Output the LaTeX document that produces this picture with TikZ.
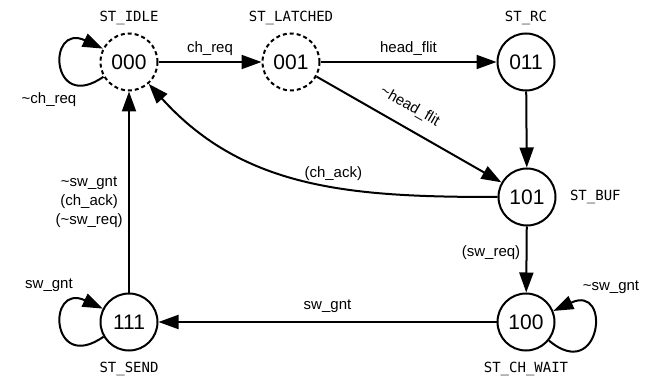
\documentclass[tikz,border=0pt]{standalone}
\usepackage{fontspec}
\setmainfont{Liberation Sans}
\setmonofont{DejaVu Sans Mono}
\usetikzlibrary{arrows.meta, positioning}
\tikzset{
    fsm/.style={circle, draw, line width=2pt, minimum size=57pt, inner sep=0pt,
        font=\fontsize{21}{21}\selectfont},
    fsmdash/.style={fsm, dash pattern=on 4pt off 3pt},
    trans/.style={->, line width=2pt},
    cond/.style={font=\fontsize{15}{19}\selectfont},
    stname/.style={font=\ttfamily\fontsize{14}{14}\selectfont},
    >={Triangle[length=20pt, width=14pt]}
}

\begin{document}
\begin{tikzpicture}[x=1pt, y=1pt]
    \useasboundingbox (0, 0) rectangle (650, -379);
    % states
    \node[fsmdash] (s000) at (129, -62) {000};
    \node[fsmdash] (s001) at (291, -62) {001};
    \node[fsm] (s011) at (526, -62) {011};
    \node[fsm] (s101) at (527, -197) {101};
    \node[fsm] (s100) at (526, -322) {100};
    \node[fsm] (s111) at (129, -322) {111};
    % state names
    \node[stname, above=4pt of s000] (n000) {ST\_IDLE};
    \node[stname, above=4pt of s001] (n001) {ST\_LATCHED};
    \node[stname, above=4pt of s011] (n011) {ST\_RC};
    \node[stname, right=10pt of s101] (n101) {ST\_BUF};
    \node[stname, below=7pt of s100] (n100) {ST\_CH\_WAIT};
    \node[stname, below=7pt of s111] (n111) {ST\_SEND};
    % transitions
    \draw[trans] (s000) -- node[cond, above=2pt] {ch\_req} (s001);
    \draw[trans] (s001) -- node[cond, above=2pt] {head\_flit} (s011);
    \draw[trans] (s001) -- node[cond, sloped, above=9pt, pos=0.45] {\textasciitilde head\_flit} (s101);
    \draw[trans] (s011) -- (s101);
    \draw[trans] (s101.west) to[out=180, in=-48]
        node[cond, above=2pt, pos=0.42] {(ch\_ack)} (s000);
    \draw[trans] (s101) -- node[cond, left=2pt, pos=0.4] {(sw\_req)} (s100);
    \draw[trans] (s100) -- node[cond, above=5pt] {sw\_gnt} (s111);
    \draw[trans] (s111) -- node[cond, left=2pt, pos=0.45, align=center]
        {\textasciitilde sw\_gnt\\(ch\_ack)\\(\textasciitilde sw\_req)} (s000);
    % self loops
    \draw[trans] (s000.210) .. controls +(215:65) and +(155:62) .. (s000.153);
    \draw[trans] (s111.210) .. controls +(215:65) and +(155:62) .. (s111.153);
    \draw[trans] (s100.-39) .. controls +(-40:68) and +(25:65) .. (s100.22);
    \node[cond] (l000) at ([xshift=-80pt, yshift=-38pt] s000) {\textasciitilde ch\_req};
    \node[cond] (l111) at ([xshift=-80pt, yshift=37pt] s111) {sw\_gnt};
    \node[cond] (l100) at ([xshift=85pt, yshift=35pt] s100) {\textasciitilde sw\_gnt};
\end{tikzpicture}
\end{document}
